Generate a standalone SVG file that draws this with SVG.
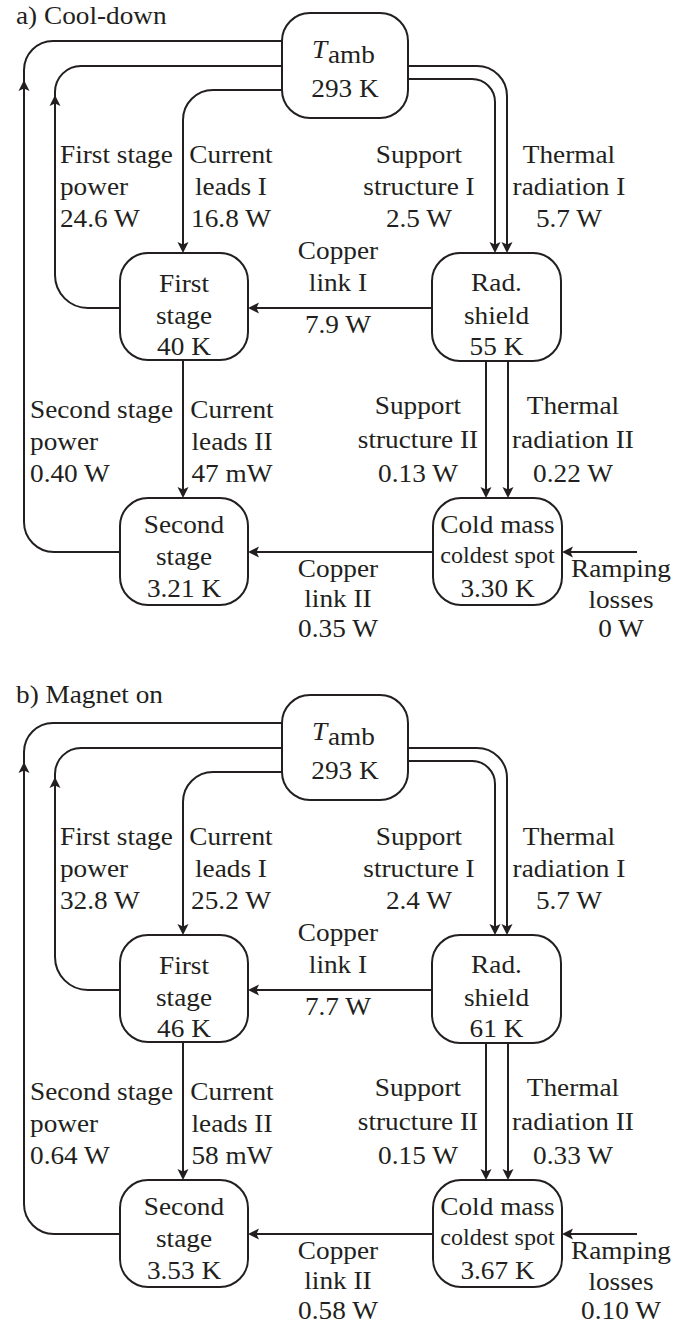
<svg xmlns="http://www.w3.org/2000/svg" width="688" height="1324" viewBox="0 0 688 1324">
<style>
text{font-family:'Liberation Serif','Times New Roman',serif;font-size:25.5px;fill:#231f20;transform-box:fill-box;transform-origin:left center;transform:scaleX(1.07)}
.c{text-anchor:middle;transform-origin:center center}
.sm{font-size:22.5px}
.box{fill:#fff;stroke:#231f20;stroke-width:2}
.e{fill:none;stroke:#231f20;stroke-width:2}
.a{marker-end:url(#arr)}
</style>
<defs>
<marker id="arr" markerUnits="userSpaceOnUse" markerWidth="14" markerHeight="14" viewBox="0 -7 14 14" refX="9" refY="0" orient="auto">
<path d="M0,-5.5 L11,0 L0,5.5 L2.5,0 Z" fill="#231f20"/>
</marker>
</defs>
<rect width="688" height="1324" fill="#fff"/>

<g id="partA">
<text x="16" y="24">a) Cool-down</text>
<g id="a-connectors">
<path class="e a" d="M120,552 H54 A30,30 0 0 1 24,522 V82"/>
<path class="e" d="M24,82 V70 A29,29 0 0 1 53,41 H282"/>
<path class="e a" d="M120,308 H88 A33,33 0 0 1 55,275 V97"/>
<path class="e" d="M55,97 V92 A26,26 0 0 1 81,66 H282"/>
<path class="e a" d="M282,90 H213 A30,30 0 0 0 183,120 V251"/>
<path class="e a" d="M408,79 H472 A23,23 0 0 1 495,102 V251"/>
<path class="e a" d="M408,66 H477 A30,30 0 0 1 507,96 V251"/>
<path class="e a" d="M432,308 H250"/>
<path class="e a" d="M183,360 V496"/>
<path class="e a" d="M486,361 V496"/>
<path class="e a" d="M508,361 V496"/>
<path class="e a" d="M433,552 H250"/>
<path class="e a" d="M637,552 H564"/>
</g>
<g id="a-tamb"><rect class="box" x="282" y="13" width="126" height="105" rx="28"/>
<text x="312" y="58" font-style="italic">T</text><text x="328" y="63" font-size="23.5">amb</text>
<text class="c" x="345" y="97">293 K</text></g>
<g id="a-first"><rect class="box" x="120" y="253" width="128" height="107" rx="28"/>
<text class="c" x="184" y="292">First</text><text class="c" x="184" y="324">stage</text><text class="c" x="184" y="355">40 K</text></g>
<g id="a-shield"><rect class="box" x="432" y="253" width="129" height="108" rx="28"/>
<text class="c" x="496.5" y="291">Rad.</text><text class="c" x="496.5" y="324">shield</text><text class="c" x="496.5" y="355">55 K</text></g>
<g id="a-second"><rect class="box" x="120" y="498" width="128" height="107" rx="28"/>
<text class="c" x="184" y="533">Second</text><text class="c" x="184" y="565">stage</text><text class="c" x="184" y="597">3.21 K</text></g>
<g id="a-cold"><rect class="box" x="433" y="498" width="129" height="107" rx="28"/>
<text class="c" x="497.5" y="533">Cold mass</text><text class="c sm" x="497.5" y="563">coldest spot</text><text class="c" x="497.5" y="597">3.30 K</text></g>
<g id="a-labels">
<text x="60" y="163">First stage</text><text x="60" y="195">power</text><text x="60" y="227">24.6 W</text>
<text class="c" x="231" y="163">Current</text><text class="c" x="231" y="195">leads I</text><text class="c" x="231" y="227">16.8 W</text>
<text class="c" x="419" y="163">Support</text><text class="c" x="419" y="195">structure I</text><text class="c" x="419" y="227">2.5 W</text>
<text class="c" x="569" y="163">Thermal</text><text class="c" x="569" y="195">radiation I</text><text class="c" x="569" y="227">5.7 W</text>
<text class="c" x="338" y="259">Copper</text><text class="c" x="338" y="291">link I</text><text class="c" x="338" y="333">7.9 W</text>
<text x="30" y="418">Second stage</text><text x="30" y="450">power</text><text x="30" y="482">0.40 W</text>
<text class="c" x="232" y="418">Current</text><text class="c" x="232" y="450">leads II</text><text class="c" x="232" y="482">47 mW</text>
<text class="c" x="418" y="414">Support</text><text class="c" x="418" y="448">structure II</text><text class="c" x="418" y="482">0.13 W</text>
<text class="c" x="573" y="414">Thermal</text><text class="c" x="573" y="448">radiation II</text><text class="c" x="573" y="482">0.22 W</text>
<text class="c" x="338" y="577">Copper</text><text class="c" x="338" y="607">link II</text><text class="c" x="338" y="637">0.35 W</text>
<text class="c" x="621" y="577">Ramping</text><text class="c" x="621" y="608">losses</text><text class="c" x="621" y="637">0 W</text>
</g>
</g>

<g id="partB" transform="translate(0,682)">
<text x="16" y="21">b) Magnet on</text>
<g id="b-connectors">
<path class="e a" d="M120,552 H54 A30,30 0 0 1 24,522 V82"/>
<path class="e" d="M24,82 V70 A29,29 0 0 1 53,41 H282"/>
<path class="e a" d="M120,308 H88 A33,33 0 0 1 55,275 V97"/>
<path class="e" d="M55,97 V92 A26,26 0 0 1 81,66 H282"/>
<path class="e a" d="M282,90 H213 A30,30 0 0 0 183,120 V251"/>
<path class="e a" d="M408,79 H472 A23,23 0 0 1 495,102 V251"/>
<path class="e a" d="M408,66 H477 A30,30 0 0 1 507,96 V251"/>
<path class="e a" d="M432,308 H250"/>
<path class="e a" d="M183,360 V496"/>
<path class="e a" d="M486,361 V496"/>
<path class="e a" d="M508,361 V496"/>
<path class="e a" d="M433,552 H250"/>
<path class="e a" d="M637,552 H564"/>
</g>
<g id="b-tamb"><rect class="box" x="282" y="13" width="126" height="105" rx="28"/>
<text x="312" y="58" font-style="italic">T</text><text x="328" y="63" font-size="23.5">amb</text>
<text class="c" x="345" y="97">293 K</text></g>
<g id="b-first"><rect class="box" x="120" y="253" width="128" height="107" rx="28"/>
<text class="c" x="184" y="292">First</text><text class="c" x="184" y="324">stage</text><text class="c" x="184" y="355">46 K</text></g>
<g id="b-shield"><rect class="box" x="432" y="253" width="129" height="108" rx="28"/>
<text class="c" x="496.5" y="291">Rad.</text><text class="c" x="496.5" y="324">shield</text><text class="c" x="496.5" y="355">61 K</text></g>
<g id="b-second"><rect class="box" x="120" y="498" width="128" height="107" rx="28"/>
<text class="c" x="184" y="533">Second</text><text class="c" x="184" y="565">stage</text><text class="c" x="184" y="597">3.53 K</text></g>
<g id="b-cold"><rect class="box" x="433" y="498" width="129" height="107" rx="28"/>
<text class="c" x="497.5" y="533">Cold mass</text><text class="c sm" x="497.5" y="563">coldest spot</text><text class="c" x="497.5" y="597">3.67 K</text></g>
<g id="b-labels">
<text x="60" y="163">First stage</text><text x="60" y="195">power</text><text x="60" y="227">32.8 W</text>
<text class="c" x="231" y="163">Current</text><text class="c" x="231" y="195">leads I</text><text class="c" x="231" y="227">25.2 W</text>
<text class="c" x="419" y="163">Support</text><text class="c" x="419" y="195">structure I</text><text class="c" x="419" y="227">2.4 W</text>
<text class="c" x="569" y="163">Thermal</text><text class="c" x="569" y="195">radiation I</text><text class="c" x="569" y="227">5.7 W</text>
<text class="c" x="338" y="259">Copper</text><text class="c" x="338" y="291">link I</text><text class="c" x="338" y="333">7.7 W</text>
<text x="30" y="418">Second stage</text><text x="30" y="450">power</text><text x="30" y="482">0.64 W</text>
<text class="c" x="232" y="418">Current</text><text class="c" x="232" y="450">leads II</text><text class="c" x="232" y="482">58 mW</text>
<text class="c" x="418" y="414">Support</text><text class="c" x="418" y="448">structure II</text><text class="c" x="418" y="482">0.15 W</text>
<text class="c" x="573" y="414">Thermal</text><text class="c" x="573" y="448">radiation II</text><text class="c" x="573" y="482">0.33 W</text>
<text class="c" x="338" y="577">Copper</text><text class="c" x="338" y="607">link II</text><text class="c" x="338" y="637">0.58 W</text>
<text class="c" x="621" y="577">Ramping</text><text class="c" x="621" y="608">losses</text><text class="c" x="621" y="637">0.10 W</text>
</g>
</g>
</svg>
